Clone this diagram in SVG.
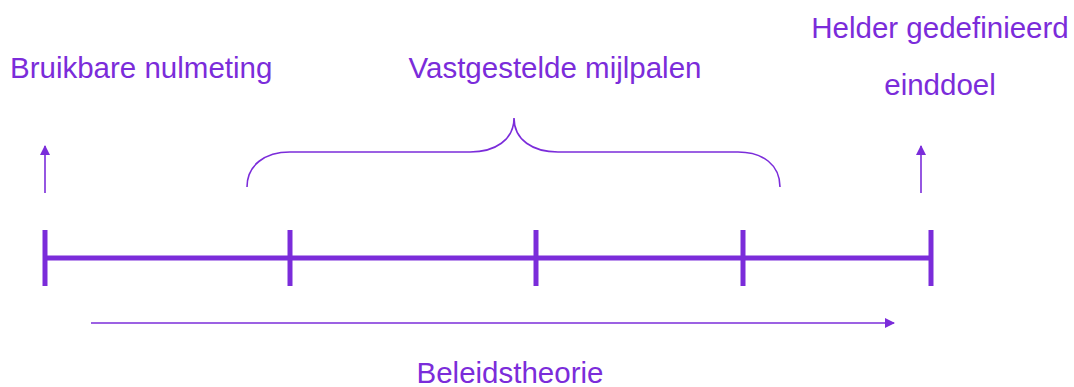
<svg xmlns="http://www.w3.org/2000/svg" width="1074" height="387" viewBox="0 0 1074 387">
<style>
.t{font-family:"Liberation Sans",Arial,sans-serif;font-size:29.5px;fill:#7B2CDA}
.tl{stroke:#7B2CDA;stroke-width:5;fill:none}
.ln{stroke:#7B2CDA;stroke-width:1.6;fill:none}
</style>
<defs>
<marker id="ah" markerWidth="10" markerHeight="11" refX="9" refY="5.5" orient="auto" markerUnits="userSpaceOnUse">
<path d="M0,0.5 L10,5.5 L0,10.5 Z" fill="#7B2CDA"/>
</marker>
</defs>
<rect width="1074" height="387" fill="#fff"/>
<g id="timeline">
<line class="tl" x1="45" y1="258" x2="931" y2="258"/>
<line class="tl" x1="45" y1="230" x2="45" y2="286"/>
<line class="tl" x1="290" y1="230" x2="290" y2="286"/>
<line class="tl" x1="536" y1="230" x2="536" y2="286"/>
<line class="tl" x1="743" y1="230" x2="743" y2="286"/>
<line class="tl" x1="931" y1="230" x2="931" y2="286"/>
</g>
<g id="connectors">
<line class="ln" x1="45" y1="193" x2="45" y2="146" marker-end="url(#ah)"/>
<line class="ln" x1="921" y1="193" x2="921" y2="146" marker-end="url(#ah)"/>
<line class="ln" x1="91" y1="323" x2="894" y2="323" marker-end="url(#ah)"/>
<path class="ln" d="M247,187 C247,165 265,152 290,152 L470,152 C495,152 514,140 514,118 C514,140 533,152 558,152 L738,152 C763,152 780,165 780,187"/>
</g>
<g id="start"><text class="t" x="10" y="78">Bruikbare nulmeting</text></g>
<g id="milestones"><text class="t" x="555" y="78" text-anchor="middle">Vastgestelde mijlpalen</text></g>
<g id="goal"><text class="t" x="940" y="38" text-anchor="middle">Helder gedefinieerd</text><text class="t" x="940" y="95" text-anchor="middle">einddoel</text></g>
<g id="theory"><text class="t" x="510" y="383" text-anchor="middle">Beleidstheorie</text></g>
</svg>
